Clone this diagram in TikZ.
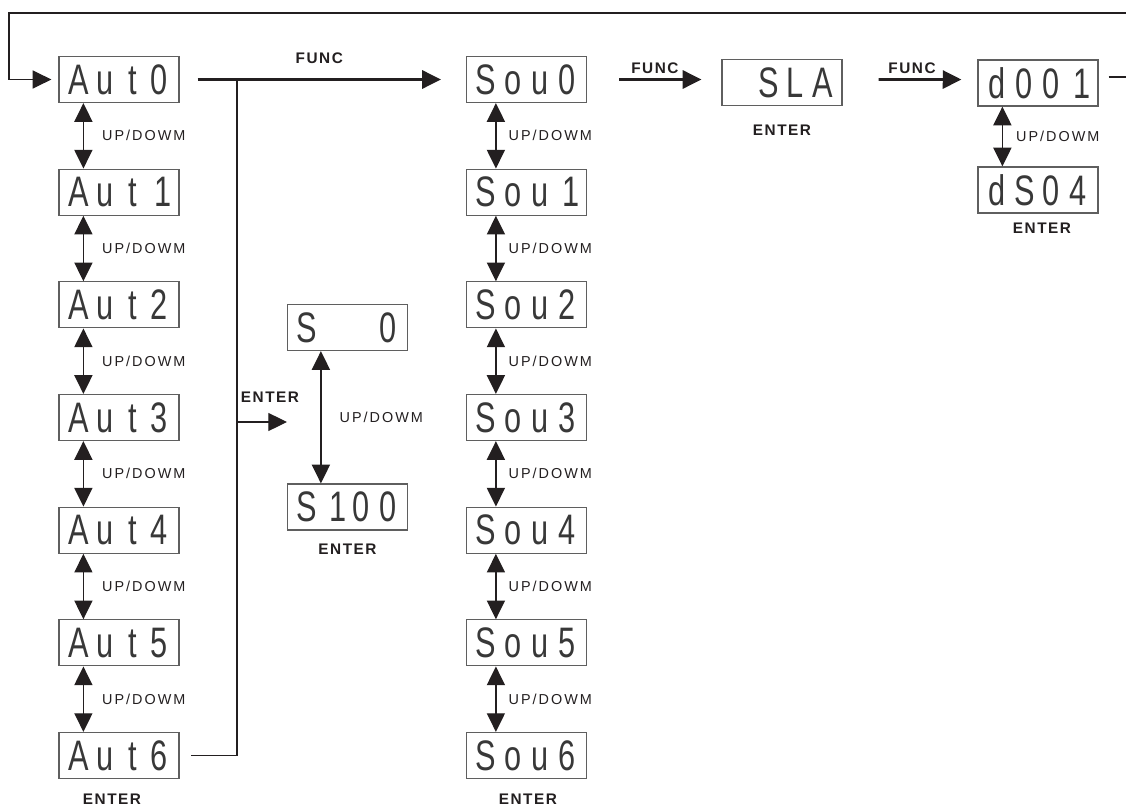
\documentclass[tikz,border=0pt]{standalone}
\usepackage{fontspec}
\setmainfont{Liberation Sans}
\newfontfamily\lcdfont[FakeStretch=0.72]{Liberation Sans}
\newfontfamily\keyfont[LetterSpace=10]{Liberation Sans}
\newfontfamily\updnfont[LetterSpace=14]{Liberation Sans}
\usetikzlibrary{arrows.meta,positioning}
\definecolor{pnlink}{RGB}{35,31,32}
\definecolor{pnlframe}{RGB}{95,95,95}
\newcommand\lcdcell[1]{\if*#1\makebox[20.25pt]{}\else\if1#1\makebox[20.25pt][r]{1\hspace{1pt}}\else\makebox[20.25pt][c]{#1}\fi\fi}
\def\lcdloop#1{\ifx\relax#1\else\lcdcell{#1}\expandafter\lcdloop\fi}
\newcommand\lcd[1]{{\lcdfont\fontsize{32pt}{32pt}\selectfont\color{black!78}\lcdloop#1\relax}}

\begin{document}
\begin{tikzpicture}[x=0.75pt, y=-0.75pt,
      lcdbox/.style={draw=pnlframe, line width=0.9pt, minimum width=90pt, minimum height=34.5pt, inner sep=0pt},
      updn/.style={font=\updnfont\fontsize{10.8pt}{12pt}\selectfont, text=pnlink, inner sep=0pt},
      keylbl/.style={font=\keyfont\bfseries\fontsize{11.5pt}{13pt}\selectfont, text=pnlink, inner sep=0pt},
      updown/.style={pnlink, line width=1.1pt, {Triangle[length=14pt,width=13.5pt]}-{Triangle[length=14pt,width=13.5pt]}},
      funcarrow/.style={pnlink, line width=2.2pt, -{Triangle[length=14pt,width=13.5pt]}},
      thinline/.style={pnlink, line width=0.9pt}
    ]
      \useasboundingbox (0,0) rectangle (1126,806);

      \foreach \i in {0,...,6} {
        \node[lcdbox] (aut\i) at (119, {79.5+112.67*\i}) {\lcd{Aut\i}};
        \node[lcdbox] (sou\i) at (526.5, {79.5+112.67*\i}) {\lcd{Sou\i}};
      }
      \foreach \j [count=\i from 0] in {1,...,6} {
        \draw[updown] ([xshift=18.75pt]aut\i.south west) -- node[updn, right=13.5pt] {UP/DOWM} ([xshift=18.75pt]aut\j.north west);
        \draw[updown] ([xshift=22.5pt]sou\i.south west) -- node[updn, right=9pt] {UP/DOWM} ([xshift=22.5pt]sou\j.north west);
      }

      \node[lcdbox] (szero) at (347.5, 327.5) {\lcd{S**0}};
      \node[lcdbox] (shundred) at (347.5, 507) {\lcd{S100}};
      \node[lcdbox] (sla) at (782, 82.5) {\lcd{*SLA}};
      \node[lcdbox] (dfirst) at (1038, 83) {\lcd{d001}};
      \node[lcdbox] (dlast) at (1038, 190) {\lcd{dS04}};

      \draw[updown] ([xshift=25.5pt]szero.south west) -- node[updn, right=13.5pt] {UP/DOWM} ([xshift=25.5pt]shundred.north west);
      \draw[updown] ([xshift=18.75pt]dfirst.south west) -- node[updn, right=9.75pt] {UP/DOWM} ([xshift=18.75pt]dlast.north west);

      \draw[funcarrow] ([xshift=13.5pt]aut0.east) -- node[keylbl, above=10.9pt] {FUNC} ([xshift=-18.75pt]sou0.west);
      \draw[funcarrow] ([xshift=24pt]sou0.east) -- node[keylbl, above=3pt, xshift=-4pt] {FUNC} ([xshift=-15pt,yshift=2.25pt]sla.west);
      \draw[funcarrow] ([xshift=27pt,yshift=2.25pt]sla.east) -- node[keylbl, above=3pt, xshift=-6pt] {FUNC} ([xshift=-12pt,yshift=2.6pt]dfirst.west);

      \coordinate (loopne) at (1127.5, 13);
      \coordinate (loopnw) at (9, 13);
      \draw[thinline, -{Triangle[length=14pt,width=13.5pt]}] ([xshift=7.5pt,yshift=4.5pt]dfirst.east) -| (loopne) -- (loopnw) |- ([xshift=-5.25pt]aut0.west);

      \coordinate (bustop) at (237, 79.5);
      \coordinate (enterpt) at (287, 422);
      \draw[thinline] (bustop) |- ([xshift=8.25pt]aut6.east);
      \draw[thinline, -{Triangle[length=14pt,width=13.5pt]}] (bustop |- enterpt) -- node[keylbl, above=14pt, xshift=6pt] {ENTER} (enterpt);

      \node[keylbl, below=11.25pt of aut6, xshift=-5.25pt] (autenter) {ENTER};
      \node[keylbl, below=11.25pt of sou6, xshift=1pt] (souenter) {ENTER};
      \node[keylbl, below=9.5pt of shundred] (senter) {ENTER};
      \node[keylbl, below=14pt of sla] (slaenter) {ENTER};
      \node[keylbl, below=7pt of dlast, xshift=3pt] (denter) {ENTER};
    \end{tikzpicture}
\end{document}
